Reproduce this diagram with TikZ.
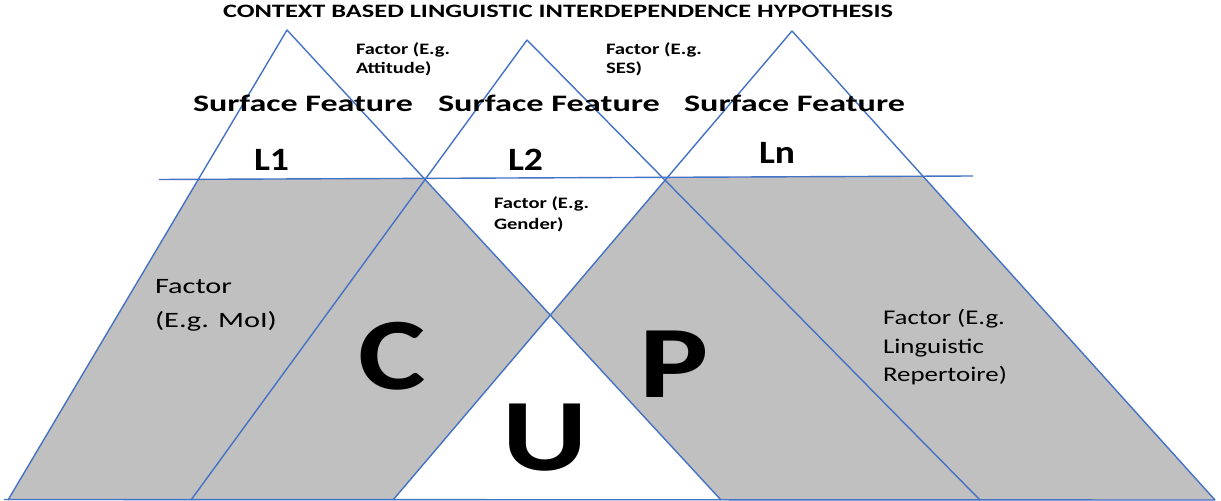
\documentclass[tikz,border=0pt]{standalone}
\usepackage{fontspec}
\setmainfont{Carlito}
\usepackage{graphicx}
\definecolor{lineblue}{RGB}{68,114,196}
\definecolor{fillgray}{RGB}{192,192,192}
\newlength\natw
\newcommand\fitfirst[3]{\settowidth\natw{#2}\pgfmathsetmacro\sxf{#1/\natw}\scalebox{\sxf}[1]{#3}}
\newcommand\twoline[2]{\begin{tabular}[t]{@{}l@{}}#1\\#2\end{tabular}}
\newcommand\threeline[3]{\begin{tabular}[t]{@{}l@{}}#1\\#2\\#3\end{tabular}}
\tikzset{
  lbl/.style={inner sep=0pt, outer sep=0pt, anchor=base west},
  edge/.style={draw=lineblue, line width=1.4bp},
  big/.style={inner sep=0pt, font=\bfseries\fontsize{103}{103}\selectfont}
}
\begin{document}
\begin{tikzpicture}[x=1bp,y=-1bp,line join=round]
\useasboundingbox (0,0) rectangle (1221,501);
% key points
\coordinate (A1) at (287,30);
\coordinate (A2) at (527,40);
\coordinate (A3) at (792,31);
\coordinate (B1L) at (8,500);
\coordinate (B1R) at (721,500);
\coordinate (B2L) at (191,500);
\coordinate (B2R) at (980,500);
\coordinate (B3L) at (393,500);
\coordinate (B3R) at (1215,500);
\coordinate (HL) at (159,179.5);
\coordinate (HR) at (973,176);
\coordinate (BL) at (4,499.5);
% gray fill
\begin{scope}
\clip (0,180.2) -- (1221,174.9) -- (1221,502) -- (0,502) -- cycle;
\fill[fillgray, even odd rule] (A1) -- (B1L) -- (B1R) -- cycle (A3) -- (B3L) -- (B3R) -- cycle;
\end{scope}
% lines
\draw[edge] (B1L) -- (A1) -- (B1R);
\draw[edge] (B2L) -- (A2) -- (B2R);
\draw[edge] (B3L) -- (A3) -- (B3R);
\draw[edge] (HL) -- (HR);
\draw[edge] (BL) -- (B3R);
% texts
\node[lbl, font=\bfseries\fontsize{19}{22}\selectfont] (title) at (223,17.3)
  {\fitfirst{670bp}{CONTEXT BASED LINGUISTIC INTERDEPENDENCE HYPOTHESIS}{CONTEXT BASED LINGUISTIC INTERDEPENDENCE HYPOTHESIS}};
\node[lbl, font=\bfseries\fontsize{23.7}{28}\selectfont] (sf1) at (193,111.7) {\fitfirst{220bp}{Surface Feature}{Surface Feature}};
\node[lbl, font=\bfseries\fontsize{23.7}{28}\selectfont] (sf2) at (438,111.7) {\fitfirst{222bp}{Surface Feature}{Surface Feature}};
\node[lbl, font=\bfseries\fontsize{23.7}{28}\selectfont] (sf3) at (684,111.7) {\fitfirst{221bp}{Surface Feature}{Surface Feature}};
\node[lbl, font=\bfseries\fontsize{32.7}{36}\selectfont] (l1) at (254,171) {\fitfirst{35bp}{L1}{L1}};
\node[lbl, font=\bfseries\fontsize{32.7}{36}\selectfont] (l2) at (508,171) {\fitfirst{35bp}{L2}{L2}};
\node[lbl, font=\bfseries\fontsize{32.7}{36}\selectfont] (ln) at (759,164) {\fitfirst{36bp}{Ln}{Ln}};
\node[lbl, font=\bfseries\fontsize{16}{19}\selectfont] (att) at (356,55) {\fitfirst{94bp}{Factor (E.g.}{\twoline{Factor (E.g.}{Attitude)}}};
\node[lbl, font=\bfseries\fontsize{16}{19}\selectfont] (ses) at (606,55) {\fitfirst{96bp}{Factor (E.g.}{\twoline{Factor (E.g.}{SES)}}};
\node[lbl, font=\bfseries\fontsize{16}{21}\selectfont] (gen) at (494,208.3) {\fitfirst{95bp}{Factor (E.g.}{\twoline{Factor (E.g.}{Gender)}}};
\node[lbl, font=\fontsize{22}{33.5}\selectfont] (moi) at (155,294) {\fitfirst{77bp}{Factor}{\twoline{Factor}{(E.g. MoI)}}};
\node[lbl, font=\fontsize{21}{28.5}\selectfont] (rep) at (883,325) {\fitfirst{122bp}{Factor (E.g.}{\threeline{Factor (E.g.}{Linguistic}{Repertoire)}}};
\node[big] (C) at (392.5,356) {\scalebox{1.24}[1]{C}};
\node[big] (U) at (545.5,437.5) {\scalebox{1.27}[1]{U}};
\node[big] (P) at (674,364.5) {\scalebox{1.27}[1]{P}};
\end{tikzpicture}
\end{document}
